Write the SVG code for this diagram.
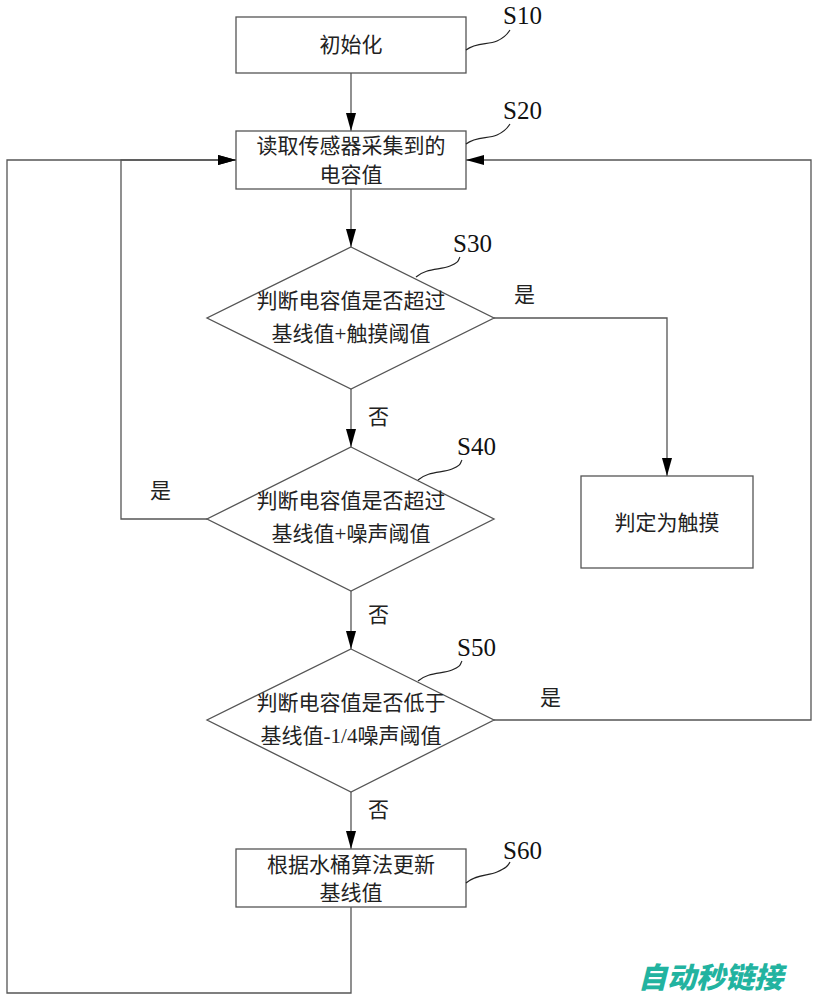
<svg xmlns="http://www.w3.org/2000/svg" width="817" height="1000" viewBox="0 0 817 1000">
<style>
.box{fill:#fff;stroke:#555;stroke-width:1.3}
.ln{fill:none;stroke:#555;stroke-width:1.3}
.lead{fill:none;stroke:#222;stroke-width:1.2}
.t{font-family:"Liberation Serif","Noto Sans CJK SC",serif;font-size:21px;fill:#222;text-anchor:middle}
.lab{font-family:"Liberation Serif",serif;font-size:25px;fill:#111}
.yn{font-family:"Liberation Serif","Noto Sans CJK SC",serif;font-size:21px;fill:#222}
.wm{font-family:"Noto Sans CJK SC",sans-serif;font-size:29px;font-weight:900;font-style:italic;fill:#22b3a0}
</style>
<defs>
<marker id="ah" markerWidth="18" markerHeight="10" refX="18" refY="5" orient="auto" markerUnits="userSpaceOnUse">
<path d="M0,0 L18,5 L0,10 Z" fill="#000"/>
</marker>
</defs>
<rect width="817" height="1000" fill="#fff"/>
<g id="connectors">
<line class="ln" x1="351" y1="73" x2="351" y2="131" marker-end="url(#ah)"/>
<line class="ln" x1="351" y1="189" x2="351" y2="247" marker-end="url(#ah)"/>
<polyline class="ln" points="494,318 667,318 667,476" marker-end="url(#ah)"/>
<line class="ln" x1="351" y1="389" x2="351" y2="447" marker-end="url(#ah)"/>
<polyline class="ln" points="207,519 121,519 121,160 236,160" marker-end="url(#ah)"/>
<line class="ln" x1="351" y1="591" x2="351" y2="649" marker-end="url(#ah)"/>
<polyline class="ln" points="494,720 811,720 811,160 466,160" marker-end="url(#ah)"/>
<line class="ln" x1="351" y1="792" x2="351" y2="849" marker-end="url(#ah)"/>
<polyline class="ln" points="351,907 351,993 7,993 7,160 236,160" marker-end="url(#ah)"/>
<text class="yn" x="514" y="302">是</text>
<text class="yn" x="368" y="424">否</text>
<text class="yn" x="150" y="498">是</text>
<text class="yn" x="368" y="622">否</text>
<text class="yn" x="540" y="705">是</text>
<text class="yn" x="368" y="817">否</text>
</g>
<g id="S10">
<rect class="box" x="236" y="17" width="230" height="56"/>
<text class="t" x="351" y="52">初始化</text>
<path class="lead" d="M466,50 C476,42 488,45 497,41 S508,33 510,30"/>
<text class="lab" x="503" y="24">S10</text>
</g>
<g id="S20">
<rect class="box" x="236" y="131" width="230" height="58"/>
<text class="t" x="351" y="153">读取传感器采集到的</text>
<text class="t" x="351" y="182">电容值</text>
<path class="lead" d="M466,144 C476,136 488,139 497,135 S508,127 510,124"/>
<text class="lab" x="503" y="119">S20</text>
</g>
<g id="S30">
<polygon class="box" points="351,247 494,318 351,389 207,318"/>
<text class="t" x="351" y="308">判断电容值是否超过</text>
<text class="t" x="351" y="341">基线值+触摸阈值</text>
<path class="lead" d="M416,277 C426,268 440,270 450,266 S458,260 460,257"/>
<text class="lab" x="453" y="252">S30</text>
</g>
<g id="S40">
<polygon class="box" points="351,447 494,519 351,591 207,519"/>
<text class="t" x="351" y="508">判断电容值是否超过</text>
<text class="t" x="351" y="541">基线值+噪声阈值</text>
<path class="lead" d="M418,480 C428,471 442,473 452,469 S460,463 462,460"/>
<text class="lab" x="457" y="455">S40</text>
</g>
<g id="S50">
<polygon class="box" points="351,649 494,720 351,792 207,720"/>
<text class="t" x="351" y="710">判断电容值是否低于</text>
<text class="t" x="351" y="743">基线值-1/4噪声阈值</text>
<path class="lead" d="M418,681 C428,672 442,674 452,670 S460,664 462,661"/>
<text class="lab" x="457" y="656">S50</text>
</g>
<g id="touch">
<rect class="box" x="581" y="476" width="172" height="92"/>
<text class="t" x="667" y="530">判定为触摸</text>
</g>
<g id="S60">
<rect class="box" x="236" y="849" width="230" height="58"/>
<text class="t" x="351" y="872">根据水桶算法更新</text>
<text class="t" x="351" y="900">基线值</text>
<path class="lead" d="M466,883 C476,874 488,876 497,872 S508,866 510,862"/>
<text class="lab" x="503" y="859">S60</text>
</g>
<text class="wm" x="638" y="988">自动秒链接</text>
</svg>
